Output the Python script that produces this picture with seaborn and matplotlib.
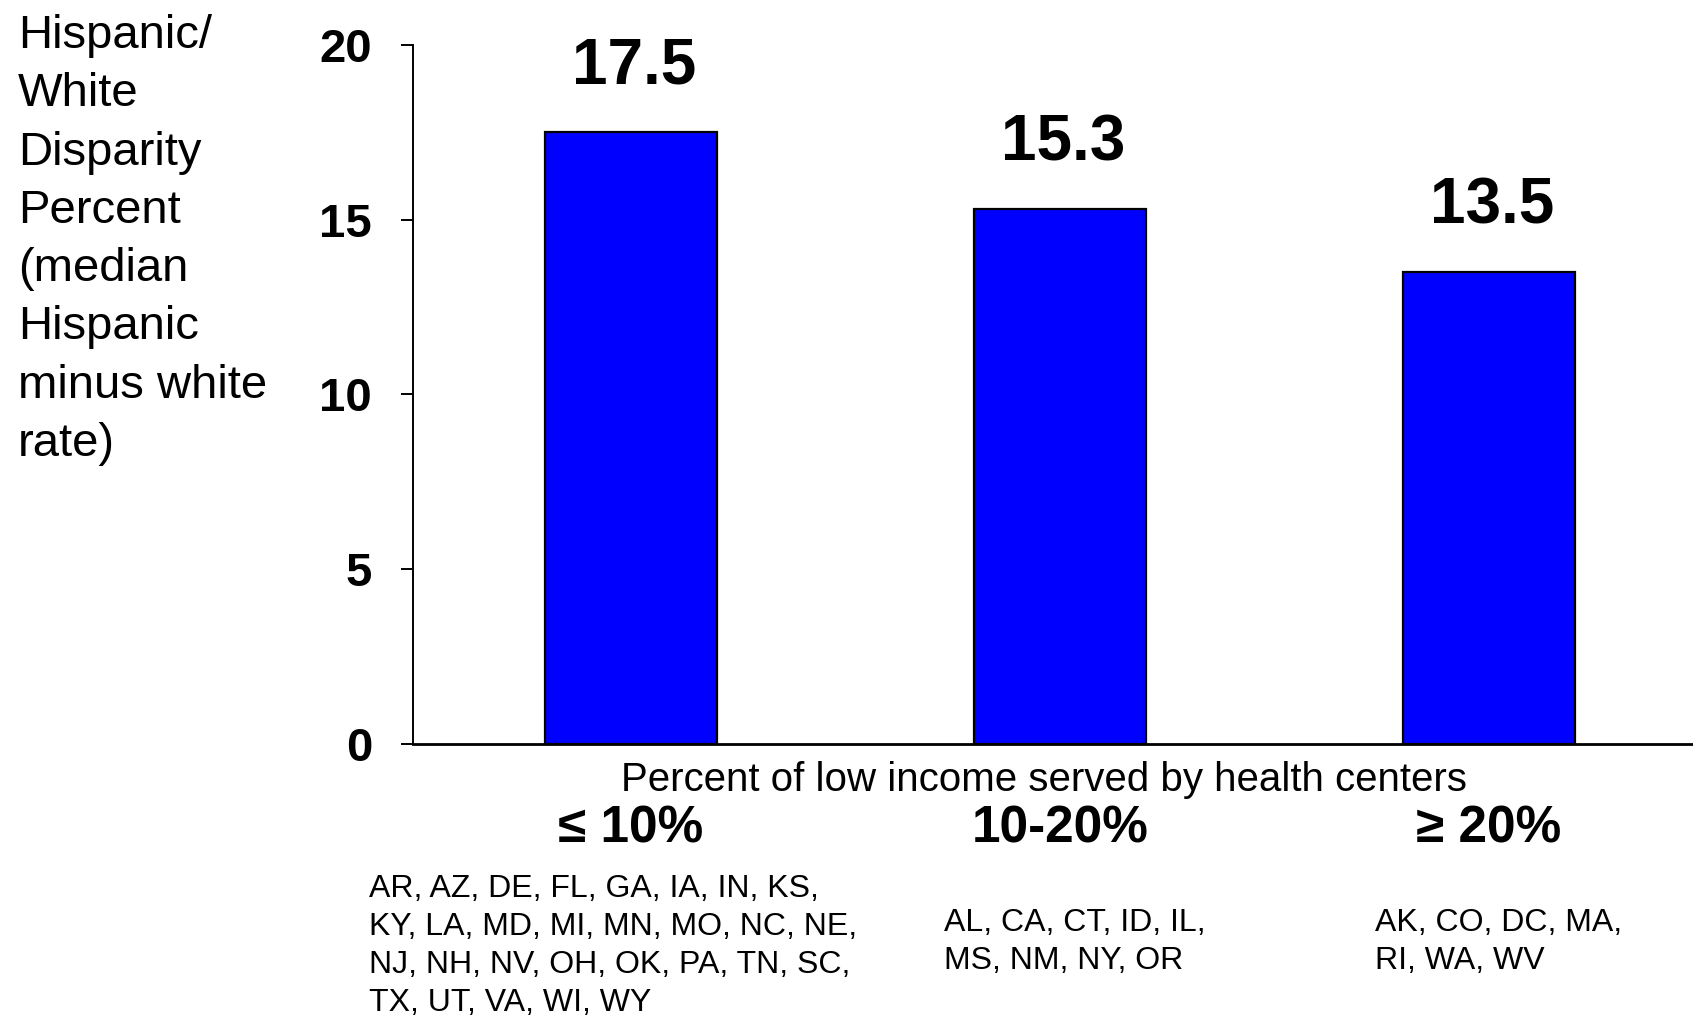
import matplotlib
matplotlib.use("Agg")
import matplotlib.pyplot as plt
import seaborn as sns
import pandas as pd

# ---- data ----
categories = ["\u2264 10%", "10-20%", "\u2265 20%"]
values = [17.5, 15.3, 13.5]
value_labels = ["17.5", "15.3", "13.5"]
y_ticks = [0, 5, 10, 15, 20]
y_label_lines = ["Hispanic/", "White", "Disparity", "Percent", "(median",
                 "Hispanic", "minus white", "rate)"]
x_label = "Percent of low income served by health centers"
state_groups = [
    ["AR, AZ, DE, FL, GA, IA, IN, KS,",
     "KY, LA, MD, MI, MN, MO, NC, NE,",
     "NJ, NH, NV, OH, OK, PA, TN, SC,",
     "TX, UT, VA, WI, WY"],
    ["AL, CA, CT, ID, IL,",
     "MS, NM, NY, OR"],
    ["AK, CO, DC, MA,",
     "RI, WA, WV"],
]

sns.set_theme(style="white")
plt.rcParams['font.family'] = ['Liberation Sans', 'DejaVu Sans']
plt.rcParams['text.color'] = 'black'
plt.rcParams['axes.labelcolor'] = 'black'
plt.rcParams['xtick.color'] = 'black'
plt.rcParams['ytick.color'] = 'black'

W, H = 1693, 1016
fig = plt.figure(figsize=(W / 100, H / 100), dpi=100)
fig.patch.set_facecolor("white")

ax_left, ax_right, ax_bottom, ax_top = 413, 1707, 744, 45
ax = fig.add_axes([ax_left / W, (H - ax_bottom) / H,
                   (ax_right - ax_left) / W, (ax_bottom - ax_top) / H])

df = pd.DataFrame({"group": categories, "value": values})
sns.barplot(data=df, x="group", y="value", order=categories,
            color="#0000FF", saturation=1, edgecolor="black",
            linewidth=1.6, width=0.4, ax=ax, errorbar=None)

ax.set_xlim(-0.508, 2.508)
ax.set_ylim(0, 20)
ax.set_yticks(y_ticks)
ax.set_yticklabels([str(t) for t in y_ticks], fontsize=34, fontweight="bold",
                   color="black")
ax.set_ylabel("")

sns.despine(ax=ax)
ax.spines["left"].set_linewidth(1.4)
ax.spines["bottom"].set_linewidth(2.0)
ax.spines["left"].set_color("black")
ax.spines["bottom"].set_color("black")

ax.tick_params(axis="y", direction="out", length=8.5, width=1.4,
               color="black", pad=21, left=True)
ax.tick_params(axis="x", length=0, pad=61)
for lab in ax.get_xticklabels():
    lab.set_fontsize(37)
    lab.set_fontweight("bold")
    lab.set_color("black")
    lab.set_va("center")

ax.set_xlabel(x_label, fontsize=29, color="black")
ax.xaxis.set_label_coords(0.488, -(780 - 744) / (ax_bottom - ax_top))
ax.xaxis.label.set_va("center")

# value labels above bars
for i, (v, t) in enumerate(zip(values, value_labels)):
    ax.annotate(t, xy=(i, v), xytext=(2, 35), textcoords="offset points",
                ha="center", va="baseline", fontsize=46, fontweight="bold",
                color="black")

# y-axis title block
fig.text(18 / W, 1 - 14 / H, "\n".join(y_label_lines), ha="left", va="top",
         fontsize=34, linespacing=1.42, color="black")

# state lists under each category
group_x = [369, 944, 1375]
group_top = [874, 908, 908]
for gx, gy, lines in zip(group_x, group_top, state_groups):
    fig.text(gx / W, 1 - gy / H, "\n".join(lines), ha="left", va="top",
             fontsize=23, linespacing=1.35, color="black")

fig.savefig("out.png", dpi=100, facecolor="white")
